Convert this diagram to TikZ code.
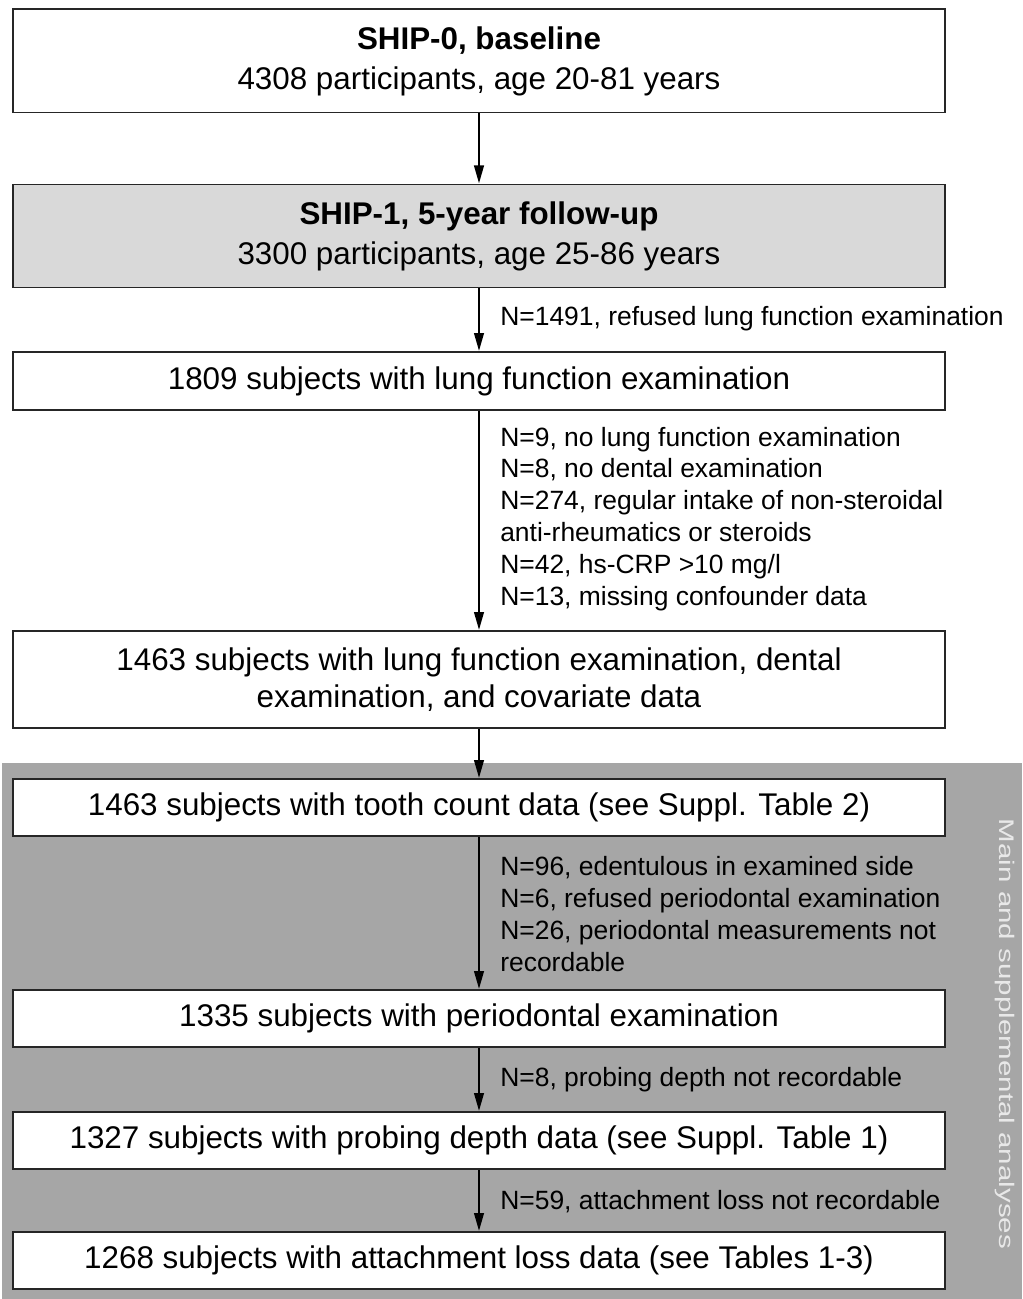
\documentclass[tikz,border=0pt]{standalone}
\usepackage{fontspec}
\setmainfont{Liberation Sans}
\usetikzlibrary{arrows.meta}
\usepackage{xcolor}
\definecolor{followgray}{HTML}{D9D9D9}
\definecolor{panelgray}{HTML}{A6A6A6}
\definecolor{paneltext}{HTML}{E8E8E8}

\tikzset{
  flowbox/.style={draw=black!85, line width=1.4pt, fill=white, minimum width=23.3cm,
    inner sep=0pt, align=center, font=\fontsize{22.3}{26.5}\selectfont},
  flowarrow/.style={line width=1.6pt, -{Triangle[length=0.45cm,width=0.24cm]}},
  excl/.style={anchor=west, inner sep=0pt, align=left, font=\fontsize{18.8}{22.7}\selectfont},
}

\begin{document}
\begin{tikzpicture}[x=0.025cm,y=-0.025cm]
		\useasboundingbox (0,0) rectangle (1022,1299);
		% grey panel behind the periodontal part
		\fill[panelgray] (2,763) rectangle (1022,1299);
		\node[rotate=-90, text=paneltext, font=\fontsize{15}{18}\selectfont] (paneltitle) at (1005,1034)
			{\scalebox{1.4}[1]{Main and supplemental analyses}};

		% boxes, top to bottom
		\node[flowbox, minimum height=2.575cm] (baseline) at (479,61)
			{{\bfseries SHIP-0, baseline}\\[2pt]4308 participants, age 20-81 years};
		\node[flowbox, minimum height=2.575cm, fill=followgray] (followup) at (479,236)
			{{\bfseries SHIP-1, 5-year follow-up}\\[2pt]3300 participants, age 25-86 years};
		\node[flowbox, minimum height=1.45cm] (lungfn) at (479,381)
			{1809 subjects with lung function examination};
		\node[flowbox, minimum height=2.425cm] (covar) at (479,679.5)
			{1463 subjects with lung function examination, dental\\examination, and covariate data};
		\node[flowbox, minimum height=1.425cm] (tooth) at (479,807.5)
			{1463 subjects with tooth count data (see Suppl. Table 2)};
		\node[flowbox, minimum height=1.425cm] (perio) at (479,1018.5)
			{1335 subjects with periodontal examination};
		\node[flowbox, minimum height=1.425cm] (probing) at (479,1140.5)
			{1327 subjects with probing depth data (see Suppl. Table 1)};
		\node[flowbox, minimum height=1.425cm] (attach) at (479,1260.5)
			{1268 subjects with attachment loss data (see Tables 1-3)};

		% connectors
		\draw[flowarrow] (baseline) -- (followup);
		\draw[flowarrow] (followup) -- (lungfn);
		\draw[flowarrow] (lungfn) -- (covar);
		\draw[flowarrow] (covar) -- (tooth);
		\draw[flowarrow] (tooth) -- (perio);
		\draw[flowarrow] (perio) -- (probing);
		\draw[flowarrow] (probing) -- (attach);

		% exclusions beside the arrows
		\node[excl] (refusedlung) at (500,319) {N=1491, refused lung function examination};
		\node[excl] (exclcovar) at (500,519) {N=9, no lung function examination\\
			N=8, no dental examination\\
			N=274, regular intake of non-steroidal\\
			anti-rheumatics or steroids\\
			N=42, hs-CRP >10 mg/l\\
			N=13, missing confounder data};
		\node[excl] (exclperio) at (500,914) {N=96, edentulous in examined side\\
			N=6, refused periodontal examination\\
			N=26, periodontal measurements not\\
			recordable};
		\node[excl] (exclprobing) at (500,1080) {N=8, probing depth not recordable};
		\node[excl] (exclattach) at (500,1202) {N=59, attachment loss not recordable};
	  \end{tikzpicture}
\end{document}
